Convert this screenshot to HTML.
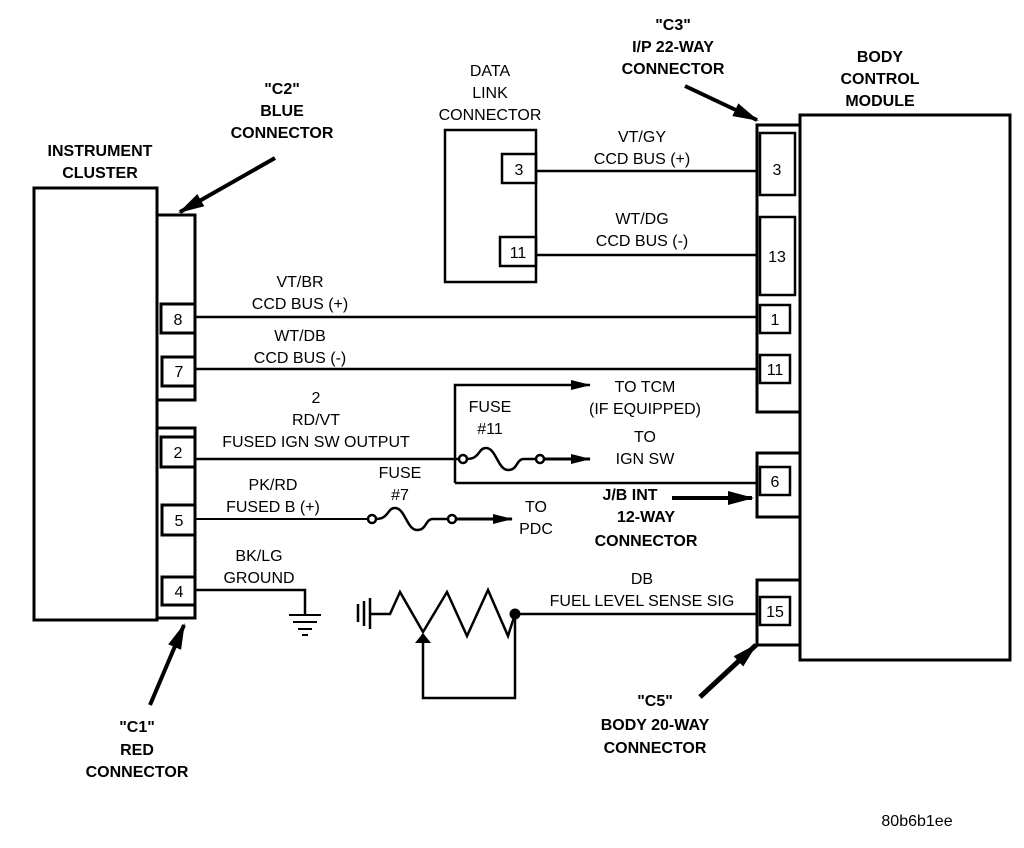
<!DOCTYPE html>
<html><head><style>
html,body{margin:0;padding:0;background:#fff;}
svg{display:block;}
text{font-family:"Liberation Sans",Arial,sans-serif;font-size:16px;fill:#000;text-anchor:middle;}
.b{font-weight:bold;}
</style></head><body>
<svg width="1024" height="848" viewBox="0 0 1024 848" xmlns="http://www.w3.org/2000/svg">
<defs><marker id="ah" markerWidth="20" markerHeight="10" refX="19" refY="5" orient="auto" markerUnits="userSpaceOnUse"><path d="M0,0 L20,5 L0,10 z" fill="#000"/></marker>
<marker id="ahs" markerWidth="10" markerHeight="16" refX="9" refY="8" orient="auto" markerUnits="userSpaceOnUse"><path d="M0,0 L10,8 L0,16 z" fill="#000"/></marker>
<marker id="ahb" markerWidth="26" markerHeight="14" refX="24" refY="7" orient="auto" markerUnits="userSpaceOnUse"><path d="M0,0 L26,7 L0,14 z" fill="#000"/></marker></defs>
<g fill="none" stroke="#000" stroke-width="3">
<rect x="34" y="188" width="123" height="432"/>
<rect x="157" y="215" width="38" height="185"/>
<rect x="161" y="304" width="34" height="29"/>
<rect x="162" y="357" width="33" height="29"/>
<rect x="157" y="428" width="38" height="190"/>
<rect x="161" y="437" width="34" height="30"/>
<rect x="162" y="505" width="33" height="30"/>
<rect x="162" y="577" width="33" height="28"/>
<rect x="445" y="130" width="91" height="152" stroke-width="2.5"/>
<rect x="502" y="154" width="34" height="29" stroke-width="2.5"/>
<rect x="500" y="237" width="36" height="29" stroke-width="2.5"/>
<rect x="757" y="125" width="43" height="287"/>
<rect x="760" y="133" width="35" height="62" stroke-width="2.5"/>
<rect x="760" y="217" width="35" height="78" stroke-width="2.5"/>
<rect x="760" y="305" width="30" height="28" stroke-width="2.5"/>
<rect x="760" y="355" width="30" height="28" stroke-width="2.5"/>
<path d="M800,660 L800,115 L1010,115 L1010,660 Z"/>
<rect x="757" y="453" width="43" height="64"/>
<rect x="760" y="467" width="30" height="28" stroke-width="2.5"/>
<rect x="757" y="580" width="43" height="65"/>
<rect x="760" y="597" width="30" height="28" stroke-width="2.5"/>
<path d="M195,317 H757 M195,369 H757 M536,171 H757 M536,255 H757" stroke-width="2.5"/>
<path d="M195,459 H460" stroke-width="2.5"/>
<path d="M455,483 V385 H590" stroke-width="2.5" marker-end="url(#ah)"/>
<path d="M455,483 H757" stroke-width="2.5"/>
<circle cx="463" cy="459" r="4" stroke-width="2.5"/>
<path d="M467,459 C480,459 478,448 486,448 C496,448 498,470 508,470 C518,470 516,459 524,459 H536" stroke-width="2.5"/>
<circle cx="540" cy="459" r="4" stroke-width="2.5"/>
<path d="M544,459 H590" stroke-width="3" marker-end="url(#ah)"/>
<path d="M195,519 H368" stroke-width="2"/>
<circle cx="372" cy="519" r="4" stroke-width="2.5"/>
<path d="M376,519 C389,519 387,508 395,508 C405,508 407,530 417,530 C427,530 425,519 433,519 H448" stroke-width="2.5"/>
<circle cx="452" cy="519" r="4" stroke-width="2.5"/>
<path d="M456,519 H512" stroke-width="3" marker-end="url(#ah)"/>
<path d="M195,590 H305 V615" stroke-width="2.5"/>
<path d="M289,615 H321 M293,622 H317 M298,629 H312 M302,635 H308" stroke-width="2"/>
<path d="M358,604 V622 M364,601 V626 M370,598 V629 M370,614 H390 L400,592 L423,632 L447,592 L467,636 L488,590 L508,636 L515,614 H757" stroke-width="2.5"/>
<circle cx="515" cy="614" r="4" fill="#000"/>
<path d="M515,614 V698 H423 V634" stroke-width="2.5" marker-end="url(#ahs)"/>
<path d="M275,158 L180,212" stroke-width="4" marker-end="url(#ahb)"/>
<path d="M150,705 L184,625" stroke-width="4" marker-end="url(#ahb)"/>
<path d="M685,86 L757,120" stroke-width="4" marker-end="url(#ahb)"/>
<path d="M672,498 L752,498" stroke-width="4" marker-end="url(#ahb)"/>
<path d="M700,697 L756,645" stroke-width="5" marker-end="url(#ahb)"/>
</g>
<text x="178" y="325">8</text><text x="179" y="377">7</text>
<text x="178" y="458">2</text><text x="179" y="526">5</text><text x="179" y="597">4</text>
<text x="519" y="175">3</text><text x="518" y="258">11</text>
<text x="777" y="175">3</text><text x="777" y="262">13</text>
<text x="775" y="325">1</text><text x="775" y="375">11</text>
<text x="775" y="487">6</text><text x="775" y="617">15</text>
<g class="b">
<text x="100" y="156" class="b">INSTRUMENT</text><text x="100" y="178" class="b">CLUSTER</text>
<text x="282" y="94" class="b">"C2"</text><text x="282" y="116" class="b">BLUE</text><text x="282" y="138" class="b">CONNECTOR</text>
<text x="673" y="30" class="b">"C3"</text><text x="673" y="52" class="b">I/P 22-WAY</text><text x="673" y="74" class="b">CONNECTOR</text>
<text x="880" y="62" class="b">BODY</text><text x="880" y="84" class="b">CONTROL</text><text x="880" y="106" class="b">MODULE</text>
<text x="630" y="500" class="b">J/B INT</text><text x="646" y="522" class="b">12-WAY</text><text x="646" y="546" class="b">CONNECTOR</text>
<text x="655" y="706" class="b">"C5"</text><text x="655" y="730" class="b">BODY 20-WAY</text><text x="655" y="753" class="b">CONNECTOR</text>
<text x="137" y="732" class="b">"C1"</text><text x="137" y="755" class="b">RED</text><text x="137" y="777" class="b">CONNECTOR</text>
</g>
<text x="490" y="76">DATA</text><text x="490" y="98">LINK</text><text x="490" y="120">CONNECTOR</text>
<text x="642" y="142">VT/GY</text><text x="642" y="164">CCD BUS (+)</text>
<text x="642" y="224">WT/DG</text><text x="642" y="246">CCD BUS (-)</text>
<text x="300" y="287">VT/BR</text><text x="300" y="309">CCD BUS (+)</text>
<text x="300" y="341">WT/DB</text><text x="300" y="363">CCD BUS (-)</text>
<text x="316" y="403">2</text><text x="316" y="425">RD/VT</text><text x="316" y="447">FUSED IGN SW OUTPUT</text>
<text x="490" y="412">FUSE</text><text x="490" y="434">#11</text>
<text x="645" y="392">TO TCM</text><text x="645" y="414">(IF EQUIPPED)</text>
<text x="645" y="442">TO</text><text x="645" y="464">IGN SW</text>
<text x="273" y="490">PK/RD</text><text x="273" y="512">FUSED B (+)</text>
<text x="400" y="478">FUSE</text><text x="400" y="500">#7</text>
<text x="536" y="512">TO</text><text x="536" y="534">PDC</text>
<text x="259" y="561">BK/LG</text><text x="259" y="583">GROUND</text>
<text x="642" y="584">DB</text><text x="642" y="606">FUEL LEVEL SENSE SIG</text>
<text x="917" y="826">80b6b1ee</text>
</svg>
</body></html>
